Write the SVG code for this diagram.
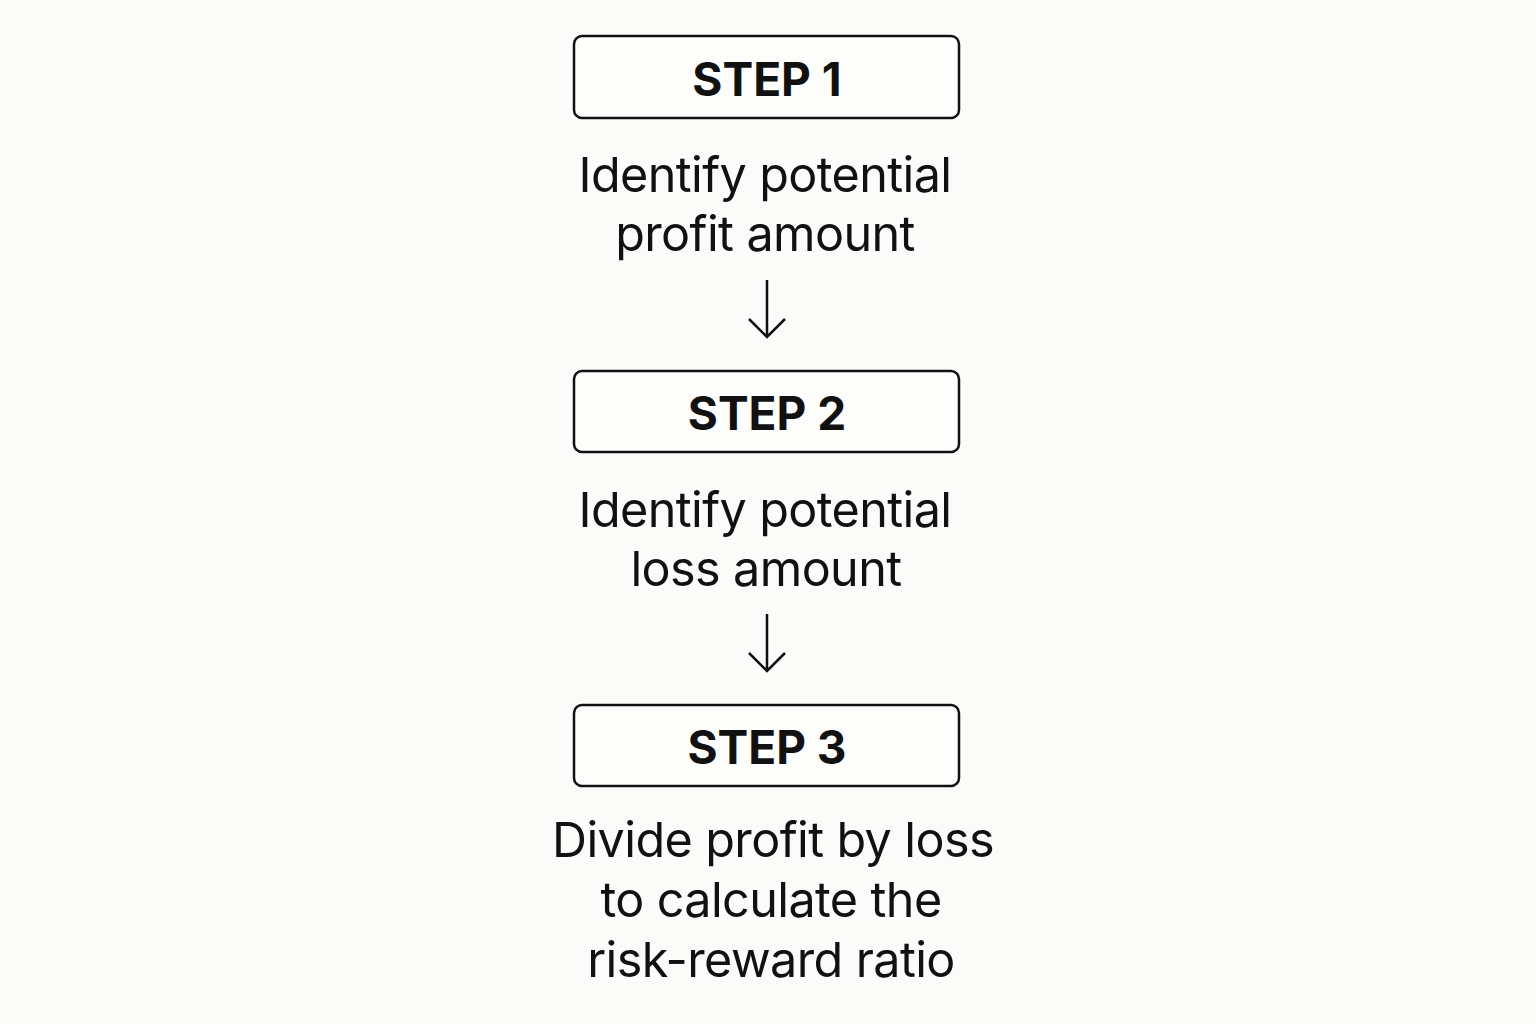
<svg xmlns="http://www.w3.org/2000/svg" width="1536" height="1024" viewBox="0 0 1536 1024">
<style>
.box{fill:#fdfdfc;stroke:#111;stroke-width:2.5}
.st{font-family:Inter,"Liberation Sans",sans-serif;font-weight:700;font-size:46px;fill:#111;text-anchor:middle}
.tx{font-family:Inter,"Liberation Sans",sans-serif;font-size:48.5px;letter-spacing:-0.6px;fill:#111;text-anchor:middle}
.ar{fill:none;stroke:#111;stroke-width:2.5}
</style>
<rect width="1536" height="1024" fill="#fbfbf9"/>
<g id="step1">
<rect class="box" x="574" y="36" width="385" height="82" rx="8"/>
<text class="st" x="767" y="96">STEP 1</text>
<text class="tx" x="765" y="192">Identify potential</text>
<text class="tx" x="765" y="251">profit amount</text>
</g>
<g id="step2">
<rect class="box" x="574" y="371" width="385" height="81" rx="8"/>
<text class="st" x="767" y="430">STEP 2</text>
<text class="tx" x="765" y="527">Identify potential</text>
<text class="tx" x="766" y="586">loss amount</text>
</g>
<g id="step3">
<rect class="box" x="574" y="705" width="385" height="81" rx="8"/>
<text class="st" x="767" y="764">STEP 3</text>
<text class="tx" x="773" y="857">Divide profit by loss</text>
<text class="tx" x="771" y="917">to calculate the</text>
<text class="tx" x="771" y="977">risk-reward ratio</text>
</g>
<g id="connectors">
<path class="ar" d="M767 280V337M749 319L767 337L785 319"/>
<path class="ar" d="M767 614V671M749 653L767 671L785 653"/>
</g>
</svg>
